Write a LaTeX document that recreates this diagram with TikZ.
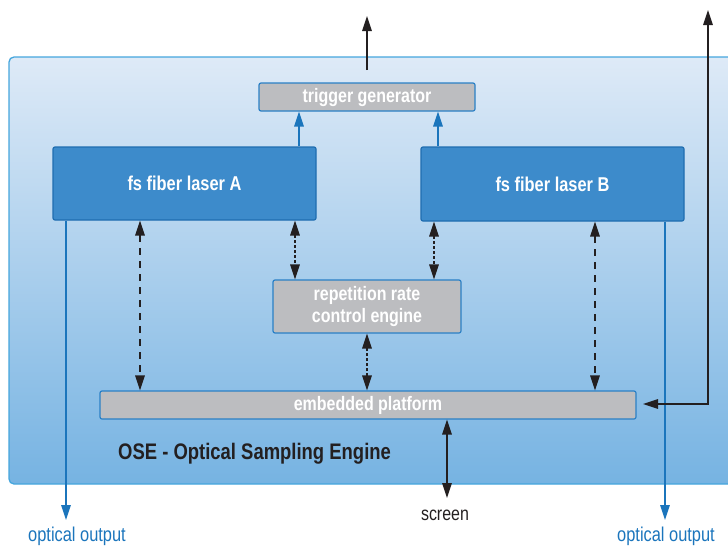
\documentclass[tikz,border=0pt]{standalone}
\usepackage{fontspec}
\setmainfont{Liberation Sans}[FakeStretch=0.82]
\usetikzlibrary{arrows.meta,calc}
\definecolor{laserblue}{HTML}{3D8BCB}
\definecolor{laserborder}{HTML}{1F6DB0}
\definecolor{boxgray}{HTML}{BCBDC0}
\definecolor{boxborder}{HTML}{2A80C6}
\definecolor{linkblue}{HTML}{1B75BC}
\definecolor{bgtop}{HTML}{DEEAF7}
\definecolor{bgbottom}{HTML}{76B3E2}
\definecolor{bgborder}{HTML}{45A6DD}
\definecolor{txtdark}{HTML}{231F20}
\tikzset{
  laserbox/.style={draw=laserborder, line width=1.2pt, fill=laserblue, rounded corners=2pt,
    text=white, font=\bfseries\fontsize{20}{22}\selectfont, inner sep=0pt},
  graybox/.style={draw=boxborder, line width=1.2pt, fill=boxgray, rounded corners=2pt,
    text=white, font=\bfseries\fontsize{19.5}{22.5}\selectfont, inner sep=0pt, align=center},
  blk/.style={draw=txtdark, line width=1.5pt},
  tipb/.style={-{Triangle[length=15pt,width=9.5pt]}},
  tipbb/.style={{Triangle[length=15pt,width=9.5pt]}-{Triangle[length=15pt,width=9.5pt]}},
  dashline/.style={dash pattern=on 7pt off 6pt},
  dotline/.style={dash pattern=on 2.5pt off 2.5pt},
  bluelink/.style={draw=linkblue, line width=1.5pt, -{Triangle[length=15pt,width=9.5pt]}},
  outlabel/.style={text=linkblue, font=\fontsize{20}{22}\selectfont, inner sep=0pt},
}
\begin{document}
\begin{tikzpicture}[x=1pt,y=-1pt]
\useasboundingbox (0,0) rectangle (728,546);
\clip (0,0) rectangle (728,546);
% background engine box
\shade[top color=bgtop, bottom color=bgbottom, rounded corners=5pt]
  (9,57) rectangle (745,484);
\draw[bgborder, line width=1.3pt, rounded corners=5pt] (9,57) rectangle (745,484);

% nodes
\node[graybox, minimum width=216pt, minimum height=28pt] (trig) at (367,97) {trigger generator};
\node[laserbox, minimum width=263pt, minimum height=73pt] (la) at (184.5,183.5) {fs fiber laser A};
\node[laserbox, minimum width=263pt, minimum height=74pt] (lb) at (552.5,184) {fs fiber laser B};
\node[graybox, minimum width=188pt, minimum height=53pt] (rep) at (367,306.5) {repetition rate\\control engine};
\node[graybox, minimum width=536pt, minimum height=28pt] (emb) at (368,405) {embedded platform};
\node[anchor=west, text=txtdark, font=\bfseries\fontsize{22.5}{26}\selectfont, inner sep=0pt] (ose) at (118,454) {OSE - Optical Sampling Engine};

% labels
\node[outlabel] (oa) at (77,536) {optical output};
\node[outlabel] (ob) at (666,536) {optical output};
\node[text=txtdark, font=\fontsize{19.5}{22}\selectfont, inner sep=0pt] (scr) at (445,515) {screen};

% coordinates
\coordinate (topS) at (367,70);
\coordinate (topE) at (367,16);
\coordinate (rTop) at (708,10);
\coordinate (rCor) at (708,404);
\coordinate (rEnd) at (643,404);
\coordinate (scrE) at (447,498);
\coordinate (xa) at (299,0);
\coordinate (xb) at (438,0);
\coordinate (oaE) at (66,520);
\coordinate (obE) at (665,520);
\coordinate (d1) at (140,0);
\coordinate (d2) at (295,0);
\coordinate (d3) at (434,0);
\coordinate (d4) at (595,0);
\coordinate (d5) at (367,0);

% trigger output
\draw[blk, tipb] (topS) -- (topE);
% lasers to trigger
\draw[bluelink] (xa |- la.north) -- (xa |- trig.south);
\draw[bluelink] (xb |- lb.north) -- (xb |- trig.south);
% optical outputs
\draw[bluelink] (oaE |- la.south) -- (oaE);
\draw[bluelink] (obE |- lb.south) -- (obE);
% right external link
\draw[blk, tipbb] (rTop) -- (rCor) -- (rEnd);
% screen
\draw[blk, tipbb] (emb.south -| scrE) -- (scrE);
% dashed / dotted links
\draw[blk, dashline, tipbb] (d1 |- la.south) -- (d1 |- emb.north);
\draw[blk, dotline, tipbb] (d2 |- la.south) -- (d2 |- rep.north);
\draw[blk, dotline, tipbb] (d3 |- lb.south) -- (d3 |- rep.north);
\draw[blk, dashline, tipbb] (d4 |- lb.south) -- (d4 |- emb.north);
\draw[blk, dotline, tipbb] (d5 |- rep.south) -- (d5 |- emb.north);
\end{tikzpicture}
\end{document}
